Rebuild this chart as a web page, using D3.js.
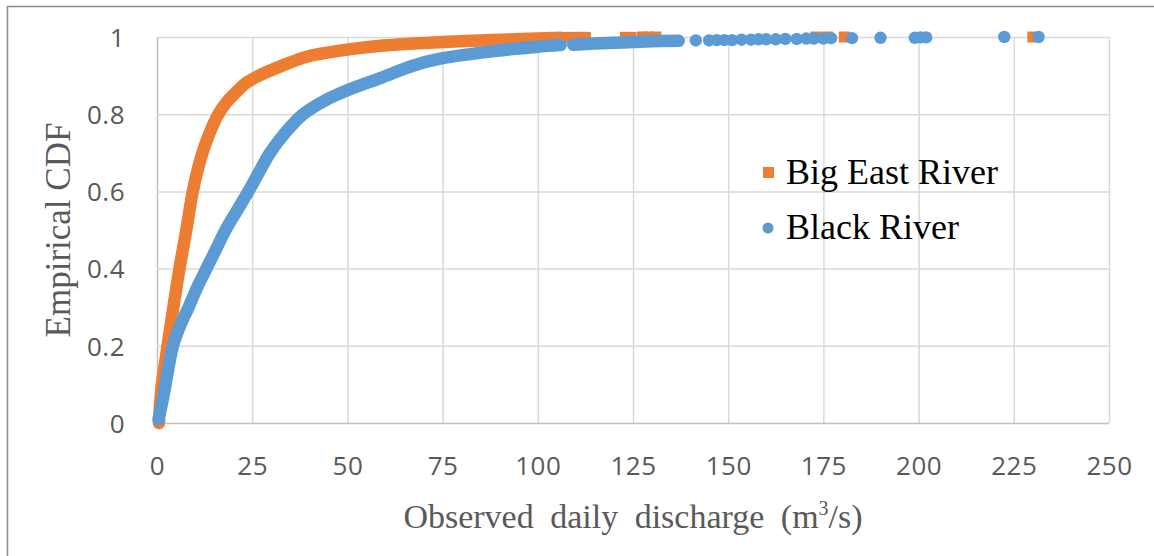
<!DOCTYPE html>
<html>
<head>
<meta charset="utf-8">
<script src="https://cdn.jsdelivr.net/npm/d3@7"></script>
<style>
  body { margin: 0; background: #fff; }
  svg { display: block; }
</style>
</head>
<body>
<svg id="chart"></svg>
<script>
const bigEastCurve = [
  [0.5, 0], [1.2, 0.094], [2.2, 0.16], [3.0, 0.215], [4.3, 0.3], [5.9, 0.4],
  [7.7, 0.5], [9.4, 0.6], [10.9, 0.664], [13.1, 0.733], [16.1, 0.8], [18.2, 0.83],
  [20.5, 0.854], [23, 0.878], [26.2, 0.897], [33.2, 0.927], [39.3, 0.949],
  [48.9, 0.966], [59.4, 0.978], [75, 0.987], [90, 0.993], [100, 0.996], [106, 0.998]
];
const bigEastTail = [
  [108, 0.999], [110, 0.999], [111.5, 0.999], [112.5, 0.999], [123, 0.999],
  [124.5, 0.999], [127.5, 1], [129, 1], [131, 1], [173, 1], [176, 1],
  [180.5, 1], [230, 1]
];
const blackCurve = [
  [0.4, 0.01], [1.5, 0.06], [2.6, 0.12], [4.2, 0.2], [6, 0.25], [8.3, 0.3],
  [10.5, 0.35], [13, 0.4], [15.5, 0.45], [18, 0.5], [21, 0.55], [24, 0.6],
  [26.8, 0.65], [29.7, 0.7], [33.5, 0.75], [38.4, 0.8], [44, 0.835], [50, 0.862],
  [59, 0.895], [67, 0.925], [75, 0.945], [90, 0.965], [100, 0.975], [106, 0.979]
];
const blackCurve2 = [
  [109.3, 0.98], [115, 0.983], [120, 0.985], [125, 0.987], [130, 0.989], [137, 0.99]
];
const blackTail = [
  [141.5, 0.991], [145, 0.991], [147, 0.992], [149, 0.992], [151, 0.992],
  [153.5, 0.993], [156, 0.993], [158, 0.994], [160, 0.994], [162.5, 0.994],
  [165, 0.995], [168, 0.995], [170.5, 0.996], [172.5, 0.996], [175, 0.996],
  [177, 0.997], [182.5, 0.997], [190, 0.998], [199, 0.998], [200.5, 0.999],
  [202, 0.999], [222.5, 1], [231.5, 1]
];
const xTicks = [0, 25, 50, 75, 100, 125, 150, 175, 200, 225, 250];
const yTicks = [0, 0.2, 0.4, 0.6, 0.8, 1];
const seriesNames = ["Big East River", "Black River"];

// Tamaño del grafico
const width = 1154;
const height = 556;
const plotLeft = 157, plotRight = 1109, plotTop = 37, plotBottom = 423;
const orange = "#ED7D31";
const blue = "#5B9BD5";
const serif = "'Liberation Serif', 'Times New Roman', serif";
const sans = "'Open Sans', 'Liberation Sans', sans-serif";

const svg = d3.select("#chart")
  .attr("width", width)
  .attr("height", height);

// Marco exterior
svg.append("rect")
  .attr("x", 7.5).attr("y", 6.5)
  .attr("width", 1170).attr("height", 570)
  .attr("fill", "none")
  .attr("stroke", "#8c8c8c")
  .attr("stroke-width", 1.5);

// Escalas
const xScale = d3.scaleLinear().domain([0, 250]).range([plotLeft, plotRight]);
const yScale = d3.scaleLinear().domain([0, 1]).range([plotBottom, plotTop]);

// Rejilla y ejes
const xAxis = d3.axisBottom(xScale).tickValues(xTicks)
  .tickSize(-(plotBottom - plotTop)).tickFormat(d3.format("d"));
const yAxis = d3.axisLeft(yScale).tickValues(yTicks)
  .tickSize(-(plotRight - plotLeft)).tickFormat(d => String(d));

const gx = svg.append("g")
  .attr("id", "x-axis")
  .attr("transform", `translate(0, ${plotBottom})`)
  .call(xAxis);
const gy = svg.append("g")
  .attr("id", "y-axis")
  .attr("transform", `translate(${plotLeft}, 0)`)
  .call(yAxis);

[gx, gy].forEach(g => {
  g.select(".domain").remove();
  g.selectAll(".tick line").attr("stroke", "#d9d9d9").attr("stroke-width", 1.5);
  g.selectAll(".tick text")
    .attr("fill", "#595959")
    .style("font-family", sans)
    .style("font-size", "26px")
    .style("letter-spacing", "0.5px");
});
gx.selectAll(".tick text").attr("y", 52).attr("dy", 0);
gy.selectAll(".tick text").attr("x", -32).attr("dy", "0.36em");
// Lineas de eje un poco mas oscuras
gx.selectAll(".tick line").filter(d => d === 0).attr("stroke", "#bfbfbf");
gy.selectAll(".tick line").filter(d => d === 0).attr("stroke", "#bfbfbf");

// Series: la parte densa de cada serie se ve como una banda gruesa
const line = d3.line()
  .x(d => xScale(d[0]))
  .y(d => yScale(d[1]))
  .curve(d3.curveCatmullRom.alpha(0.5));

function drawBand(data, color) {
  svg.append("path")
    .datum(data)
    .attr("d", line)
    .attr("fill", "none")
    .attr("stroke", color)
    .attr("stroke-width", 12.5)
    .attr("stroke-linecap", "round")
    .attr("stroke-linejoin", "round");
}

// Big East River (cuadrados)
drawBand(bigEastCurve, orange);
svg.append("g").selectAll("rect")
  .data(bigEastTail)
  .enter()
  .append("rect")
  .attr("x", d => xScale(d[0]) - 5.5)
  .attr("y", d => yScale(d[1]) - 5.5)
  .attr("width", 11)
  .attr("height", 11)
  .attr("fill", orange);

// Black River (circulos)
drawBand(blackCurve, blue);
drawBand(blackCurve2, blue);
svg.append("g").selectAll("circle")
  .data(blackTail)
  .enter()
  .append("circle")
  .attr("cx", d => xScale(d[0]))
  .attr("cy", d => yScale(d[1]))
  .attr("r", 6.2)
  .attr("fill", blue);

// Titulos de los ejes
const xTitle = svg.append("text")
  .attr("x", (plotLeft + plotRight) / 2)
  .attr("y", 528)
  .attr("text-anchor", "middle")
  .attr("fill", "#595959")
  .style("font-family", serif)
  .style("font-size", "34px")
  .style("word-spacing", "8px");
xTitle.append("tspan").text("Observed daily discharge (m");
xTitle.append("tspan").text("3").style("font-size", "20px").attr("dy", -13);
xTitle.append("tspan").text("/s)").attr("dy", 13);

svg.append("text")
  .attr("transform", `translate(70, ${(plotTop + plotBottom) / 2}) rotate(-90)`)
  .attr("text-anchor", "middle")
  .attr("fill", "#595959")
  .style("font-family", serif)
  .style("font-size", "35px")
  .text("Empirical CDF");

// Leyenda
const legend = svg.append("g");
legend.append("rect")
  .attr("x", 763).attr("y", 167)
  .attr("width", 11).attr("height", 11)
  .attr("fill", orange);
legend.append("circle")
  .attr("cx", 768).attr("cy", 228)
  .attr("r", 5.5)
  .attr("fill", blue);
legend.selectAll("text")
  .data(seriesNames)
  .enter()
  .append("text")
  .attr("x", 786)
  .attr("y", (d, i) => 184 + i * 55)
  .attr("fill", "#000")
  .style("font-family", serif)
  .style("font-size", "36px")
  .text(d => d);
</script>
</body>
</html>
